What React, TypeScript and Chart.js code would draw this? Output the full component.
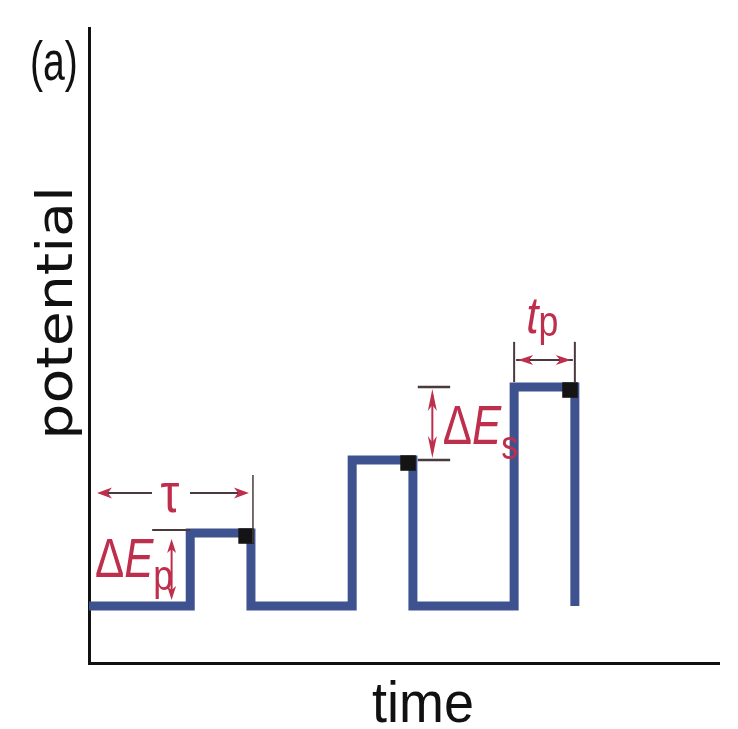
import React, { useEffect, useRef } from 'react';
import { Chart, registerables } from 'chart.js';

Chart.register(...registerables);

// ---- data ----
const startTime = 0;
const pulseStarts = [6.25, 16.25, 26.25];
const pulseEnds = [10, 20, 30];
const pulseLevels = [1, 2, 3];
const baseLevels = [0, 0, 0];
const xRange = [0, 38.9];
const yRange = [-0.78, 7.92];
const panelLabel = '(a)';
const xTitle = 'time';
const yTitle = 'potential';
const tauLabel = 'τ';
const pulseSub = 'p';
const stepSub = 's';
const widthLabel = 't';

const WAVE_COLOR = '#3f5290';
const RED = '#bd2f4c';
const DARK = '#4a3a3e';
const SANS = '"Liberation Sans", Arial, sans-serif';
const DEJAVU = '"DejaVu Sans", Verdana, sans-serif';

function buildWave() {
  const pts: { x: number; y: number }[] = [{ x: startTime, y: baseLevels[0] }];
  pulseStarts.forEach((s, i) => {
    pts.push({ x: s, y: baseLevels[i] });
    pts.push({ x: s, y: pulseLevels[i] });
    pts.push({ x: pulseEnds[i], y: pulseLevels[i] });
    pts.push({ x: pulseEnds[i], y: baseLevels[i] });
  });
  return pts;
}

function buildSamples() {
  return pulseEnds.map((e, i) => ({ x: e - 0.3, y: pulseLevels[i] - 0.04 }));
}

function txt(ctx: CanvasRenderingContext2D, s: string, x: number, y: number, size: number, o: any = {}) {
  const { italic = false, family = SANS, hs = 1, align = 'left', color = '#111', rot = 0 } = o;
  ctx.save();
  ctx.translate(x, y);
  if (rot) ctx.rotate(rot);
  ctx.scale(hs, 1);
  ctx.font = `${italic ? 'italic ' : ''}${size}px ${family}`;
  ctx.fillStyle = color;
  ctx.textAlign = align;
  ctx.textBaseline = 'alphabetic';
  ctx.fillText(s, 0, 0);
  const w = ctx.measureText(s).width * hs;
  ctx.restore();
  return w;
}

function head(ctx: CanvasRenderingContext2D, tx: number, ty: number, dx: number, dy: number, len = 15, half = 5.5) {
  const bx = tx - dx * len, by = ty - dy * len;
  const nx = -dy, ny = dx;
  ctx.beginPath();
  ctx.moveTo(tx, ty);
  ctx.lineTo(bx + nx * half, by + ny * half);
  ctx.lineTo(tx - dx * len * 0.72, ty - dy * len * 0.72);
  ctx.lineTo(bx - nx * half, by - ny * half);
  ctx.closePath();
  ctx.fillStyle = RED;
  ctx.fill();
}

function line(ctx: CanvasRenderingContext2D, x1: number, y1: number, x2: number, y2: number, color = DARK, w = 2) {
  ctx.beginPath();
  ctx.moveTo(x1, y1);
  ctx.lineTo(x2, y2);
  ctx.strokeStyle = color;
  ctx.lineWidth = w;
  ctx.stroke();
}

const annotations = {
  id: 'annotations',
  afterDraw(chart: any) {
    const { ctx, scales } = chart;
    const X = (v: number) => scales.x.getPixelForValue(v);
    const Y = (v: number) => scales.y.getPixelForValue(v);
    ctx.save();

    // titles
    txt(ctx, panelLabel, 30, 80, 56, { hs: 0.7 });
    txt(ctx, xTitle, 423, 722, 58, { hs: 0.93, align: 'center' });
    txt(ctx, yTitle, 72, 313, 50, { family: DEJAVU, hs: 1.14, align: 'center', rot: -Math.PI / 2 });

    // tau: one period
    const ty = Y(1.55);
    const tx0 = X(startTime) + 8, tx1 = X(pulseEnds[0]) - 2, tc = X(5);
    line(ctx, tx0 + 8, ty, tc - 18, ty);
    line(ctx, tc + 20, ty, tx1 - 8, ty);
    head(ctx, tx0, ty, -1, 0);
    head(ctx, tx1, ty, 1, 0);
    line(ctx, X(pulseEnds[0]) + 2, ty - 18, X(pulseEnds[0]) + 2, Y(pulseLevels[0]) + 10, DARK, 1.5);
    txt(ctx, tauLabel, tc, ty + 19, 56, { hs: 0.85, align: 'center', color: RED });

    // delta Ep
    const ax = X(5.1);
    line(ctx, X(3.9), Y(pulseLevels[0]) - 3, X(pulseStarts[0]), Y(pulseLevels[0]) - 3, DARK, 2);
    line(ctx, ax, Y(pulseLevels[0]) + 14, ax, Y(baseLevels[0]) - 14, RED, 2);
    head(ctx, ax, Y(pulseLevels[0]) + 6, 0, -1, 14, 4.5);
    head(ctx, ax, Y(baseLevels[0]) - 6, 0, 1, 14, 4.5);
    let w = txt(ctx, 'Δ', 95, Y(0.4), 56, { hs: 0.78, color: RED });
    w += txt(ctx, 'E', 95 + w, Y(0.4), 56, { hs: 0.78, italic: true, color: RED });
    txt(ctx, pulseSub, 95 + w, Y(0.22), 42, { hs: 0.85, color: RED });

    // delta Es
    const sx = X(21.2);
    line(ctx, X(20.3), Y(pulseLevels[2]), X(22.3), Y(pulseLevels[2]), DARK, 2.5);
    line(ctx, X(20.3), Y(pulseLevels[1]), X(22.3), Y(pulseLevels[1]), DARK, 2.5);
    line(ctx, sx, Y(pulseLevels[2]) + 8, sx, Y(pulseLevels[1]) - 8, RED, 2);
    head(ctx, sx, Y(pulseLevels[2]) + 2, 0, -1, 22, 4.5);
    head(ctx, sx, Y(pulseLevels[1]) - 2, 0, 1, 22, 4.5);
    let w2 = txt(ctx, 'Δ', X(21.85), Y(2.22), 56, { hs: 0.78, color: RED });
    w2 += txt(ctx, 'E', X(21.85) + w2, Y(2.22), 56, { hs: 0.78, italic: true, color: RED });
    txt(ctx, stepSub, X(21.85) + w2, Y(2.02), 40, { hs: 0.85, color: RED });

    // tp: pulse width
    const py = Y(3.37);
    const p0 = X(pulseStarts[2]), p1 = X(pulseEnds[2]);
    line(ctx, p0, Y(pulseLevels[2]) - 5, p0, Y(3.62), DARK, 2);
    line(ctx, p1, Y(pulseLevels[2]) - 5, p1, Y(3.62), DARK, 2);
    line(ctx, p0 + 2, py, p1 - 2, py, DARK, 2);
    head(ctx, p0 + 4, py, -1, 0, 15, 5);
    head(ctx, p1 - 4, py, 1, 0, 15, 5);
    const tw = txt(ctx, widthLabel, X(27.0), Y(3.74), 52, { hs: 0.85, italic: true, color: RED });
    txt(ctx, pulseSub, X(27.0) + tw, Y(3.7), 42, { hs: 0.85, color: RED });

    ctx.restore();
  },
};

export default function App() {
  const ref = useRef<HTMLCanvasElement | null>(null);
  useEffect(() => {
    if (!ref.current) return;
    const axis = (min: number, max: number) => ({
      type: 'linear' as const,
      min,
      max,
      ticks: { display: false },
      grid: { display: false, drawTicks: false },
      border: { display: true, color: '#111', width: 3 },
    });
    const chart = new Chart(ref.current, {
      type: 'scatter',
      data: {
        datasets: [
          {
            label: 'samples',
            data: buildSamples(),
            pointStyle: 'rect',
            pointRadius: 11,
            backgroundColor: '#141414',
            borderWidth: 0,
            order: 0,
          },
          {
            label: 'waveform',
            data: buildWave(),
            showLine: true,
            pointRadius: 0,
            borderColor: WAVE_COLOR,
            borderWidth: 9,
            borderJoinStyle: 'miter',
            borderCapStyle: 'butt',
            fill: false,
            order: 1,
          },
        ],
      },
      options: {
        responsive: false,
        animation: false,
        devicePixelRatio: 1,
        layout: { padding: { left: 89, right: 19, top: 28, bottom: 66 } },
        plugins: { legend: { display: false }, tooltip: { enabled: false } },
        scales: { x: axis(xRange[0], xRange[1]), y: axis(yRange[0], yRange[1]) },
      },
      plugins: [annotations],
    });
    return () => chart.destroy();
  }, []);
  return (
    <div style={{ position: 'absolute', left: 0, top: 0, width: 738, height: 729, background: '#fff' }}>
      <canvas ref={ref} width={738} height={729} />
    </div>
  );
}
